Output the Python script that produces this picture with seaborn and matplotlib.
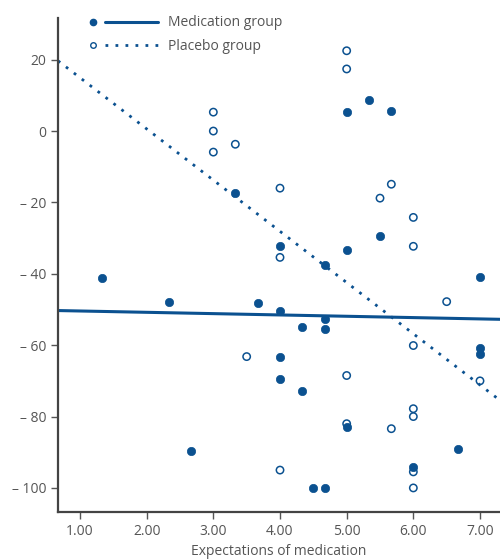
import matplotlib
matplotlib.use("Agg")
import numpy as np
import pandas as pd
import matplotlib.pyplot as plt
import seaborn as sns
from matplotlib.lines import Line2D
from matplotlib.legend_handler import HandlerBase
from matplotlib.ticker import FuncFormatter

# data
med_x = [1.33, 2.33, 2.67, 3.33, 3.67, 4.0, 4.0, 4.0, 4.0, 4.33, 4.33, 4.5, 4.67,
         4.67, 4.67, 4.67, 5.0, 5.0, 5.0, 5.33, 5.5, 5.67, 6.0, 6.67, 7.0, 7.0, 7.0]
med_y = [-41.3, -47.8, -89.6, -17.4, -48.3, -32.3, -50.3, -63.2, -69.4, -55.0, -72.8,
         -100.0, -100.0, -37.6, -52.8, -55.6, 5.3, -33.4, -82.9, 8.7, -29.5, 5.6,
         -94.1, -89.0, -41.0, -60.7, -62.6]

pla_x = [3.0, 3.0, 3.0, 3.33, 3.5, 4.0, 4.0, 4.0, 5.0, 5.0, 5.0, 5.0, 5.5, 5.67,
         5.67, 6.0, 6.0, 6.0, 6.0, 6.0, 6.0, 6.0, 6.5, 7.0]
pla_y = [5.3, 0.0, -5.9, -3.7, -63.2, -16.0, -35.4, -95.0, 22.5, 17.4, -68.5, -82.0,
         -18.8, -14.9, -83.4, -24.2, -32.3, -60.1, -77.8, -80.0, -95.5, -100.0,
         -47.8, -70.0]

# regression lines as printed (intercept, slope)
med_fit = (-50.05, -0.37)
pla_fit = (29.3, -14.35)

x_ticks = [1, 2, 3, 4, 5, 6, 7]
y_ticks = [-100, -80, -60, -40, -20, 0, 20]

blue = "#0b5190"
grey = "#555555"

sns.set_style("ticks")
plt.rcParams["font.family"] = ["Open Sans", "DejaVu Sans"]

med = pd.DataFrame({"x": med_x, "y": med_y})
pla = pd.DataFrame({"x": pla_x, "y": pla_y})

fig = plt.figure(figsize=(5, 5.6), dpi=100)
ax = fig.add_axes([0.116, 0.086, 0.884, 0.882])

xlim = (0.67, 7.3)
xs = np.array(xlim)
ax.plot(xs, med_fit[0] + med_fit[1] * xs, color=blue, lw=2.2, zorder=2)
ax.plot(xs, pla_fit[0] + pla_fit[1] * xs, color=blue, lw=2.0,
        linestyle=(0, (1, 2.6)), zorder=2)

sns.scatterplot(data=med, x="x", y="y", ax=ax, color=blue, s=36,
                edgecolor=blue, linewidth=0.5, zorder=3)
sns.scatterplot(data=pla, x="x", y="y", ax=ax, color=blue, s=28,
                edgecolor=blue, linewidth=1.1, zorder=3)
ax.collections[-1].set_facecolor("none")

ax.set_xlim(*xlim)
ax.set_ylim(-106.7, 31.7)
ax.set_xticks(x_ticks)
ax.set_yticks(y_ticks)
ax.xaxis.set_major_formatter(FuncFormatter(lambda v, p: f"{v:.2f}"))
ax.yaxis.set_major_formatter(
    FuncFormatter(lambda v, p: f"\u2013 {abs(v):.0f}" if v < 0 else f"{v:.0f}"))
ax.tick_params(colors=grey, labelsize=10, length=5, width=1)
ax.set_xlabel("Expectations of medication", fontsize=10, color=grey, labelpad=4)
ax.set_ylabel("")
sns.despine(ax=ax)
for side in ["left", "bottom"]:
    ax.spines[side].set_color("#444444")
    ax.spines[side].set_linewidth(1.6)


class DotLineHandler(HandlerBase):
    # small marker on the left, line sample to its right
    def create_artists(self, legend, orig_handle, xdescent, ydescent,
                       width, height, fontsize, trans):
        dot_style, line_style = orig_handle
        y = height / 2 - ydescent
        x0 = -xdescent
        dot = Line2D([x0 + 0.06 * width], [y], linestyle="none",
                     transform=trans, **dot_style)
        line = Line2D([x0 + 0.23 * width, x0 + width], [y, y],
                      transform=trans, **line_style)
        return [dot, line]


handles = [
    ({"marker": "o", "markersize": 4.5, "color": blue},
     {"color": blue, "lw": 2.2}),
    ({"marker": "o", "markersize": 4, "markerfacecolor": "none",
      "markeredgecolor": blue, "markeredgewidth": 1},
     {"color": blue, "lw": 2.0, "linestyle": (0, (1, 2.6))}),
]
leg = ax.legend(handles, ["Medication group", "Placebo group"],
                handler_map={tuple: DotLineHandler()},
                loc="upper left", bbox_to_anchor=(0.07, 1.005),
                frameon=False, fontsize=10, handlelength=5.0,
                handletextpad=0.7, labelspacing=0.6, borderpad=0,
                borderaxespad=0)
for t in leg.get_texts():
    t.set_color(grey)

fig.savefig("out.png", dpi=100)
